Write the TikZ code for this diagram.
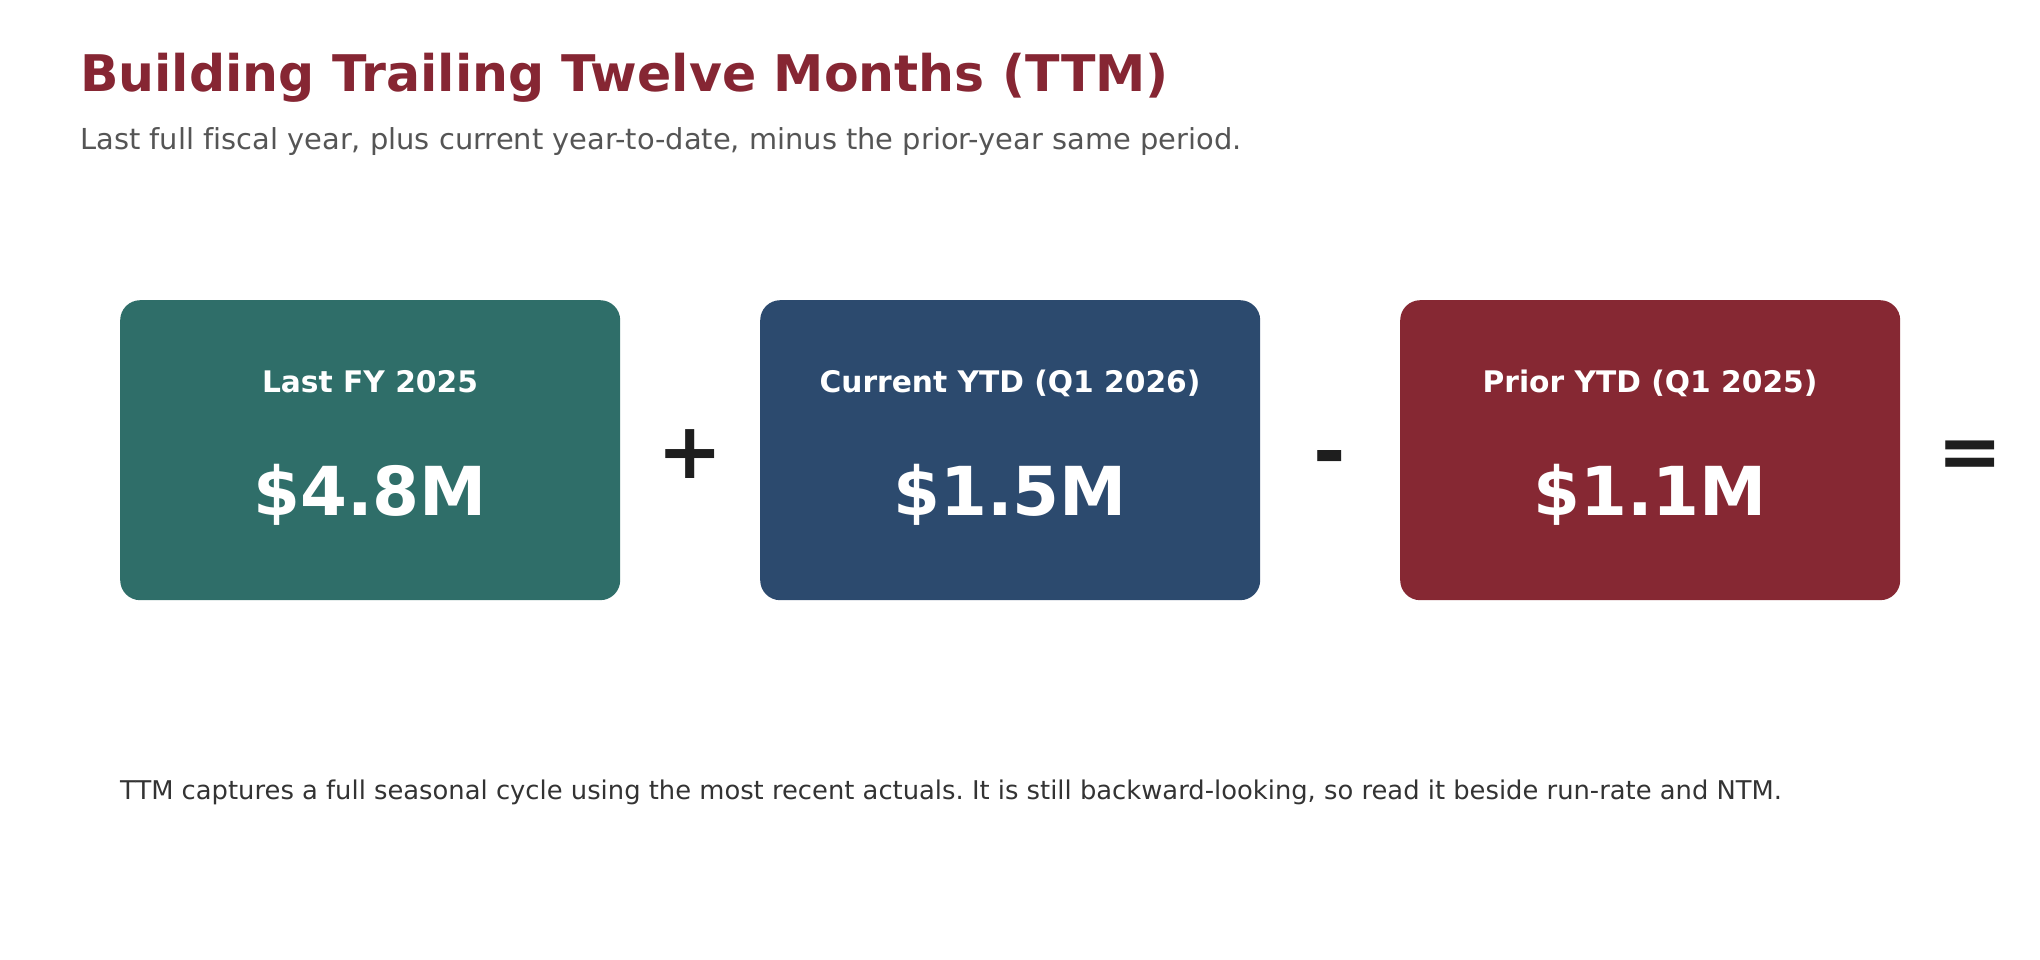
\documentclass[tikz,border=0pt]{standalone}
\usepackage{fontspec}
\setmainfont[Ligatures={NoCommon}]{DejaVu Sans}
\frenchspacing
\definecolor{titlered}{HTML}{862633}
\definecolor{boxteal}{HTML}{2F6E69}
\definecolor{boxnavy}{HTML}{2C4A6E}
\definecolor{boxred}{HTML}{862833}
\definecolor{subgray}{HTML}{555555}
\definecolor{footgray}{HTML}{333333}
\definecolor{opblack}{HTML}{1E1E1E}
\tikzset{
  card/.style={rectangle, rounded corners=20pt, minimum width=500pt, minimum height=300pt, inner sep=0pt, anchor=north west},
  cardlabel/.style={anchor=base, text=white, font=\bfseries\fontsize{29.7}{34}\selectfont, inner sep=0pt},
  cardvalue/.style={anchor=base, text=white, font=\bfseries\fontsize{67.5}{78}\selectfont, inner sep=0pt},
  opsym/.style={anchor=base, text=opblack, font=\bfseries\fontsize{78}{86}\selectfont, inner sep=0pt},
}
\begin{document}
\begin{tikzpicture}[x=1pt,y=-1pt]
\useasboundingbox (0,0) rectangle (2040,960);
\node[anchor=base west, inner sep=0pt, text=titlered, font=\bfseries\fontsize{50.5}{60}\selectfont] (title) at (80,92) {Building Trailing Twelve Months (TTM)};
\node[anchor=base west, inner sep=0pt, text=subgray, font=\fontsize{28.9}{34}\selectfont] (sub) at (80,150) {Last full fiscal year, plus current year-to-date, minus the prior-year same period.};

\node[card, fill=boxteal] (b1) at (120,300) {};
\node[card, fill=boxnavy] (b2) at (760,300) {};
\node[card, fill=boxred] (b3) at (1400,300) {};

\node[cardlabel] (l1) at (370,392) {Last FY 2025};
\node[cardvalue] (v1) at (370,515) {\$4.8M};
\node[cardlabel] (l2) at (1010,392) {Current YTD (Q1 2026)};
\node[cardvalue] (v2) at (1010,515) {\$1.5M};
\node[cardlabel] (l3) at (1650,392) {Prior YTD (Q1 2025)};
\node[cardvalue] (v3) at (1650,515) {\$1.1M};

\node[opsym] (plus) at (690,478) {+};
\node[opsym] (minus) at (1330,478) {-};
\node[opsym] (eq) at (1970,478) {=};

\node[anchor=base west, inner sep=0pt, text=footgray, font=\fontsize{25.8}{30}\selectfont] (foot) at (120,799) {TTM captures a full seasonal cycle using the most recent actuals. It is still backward-looking, so read it beside run-rate and NTM.};
\end{tikzpicture}
\end{document}
